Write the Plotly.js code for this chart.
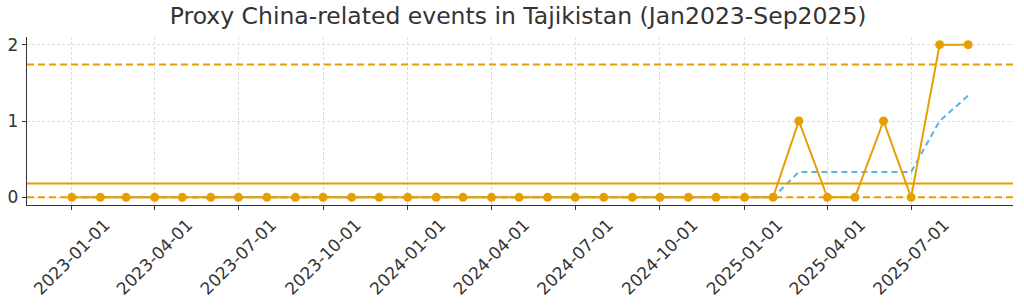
<!DOCTYPE html>
<html><head><meta charset="utf-8">
<script src="https://cdn.plot.ly/plotly-3.0.1.min.js"></script>
<style>body{margin:0;padding:0;background:#fff}#c{width:1024px;height:305px}</style>
</head><body><div id="c"></div>
<script>
const months = ["2023-01-01","2023-02-01","2023-03-01","2023-04-01","2023-05-01","2023-06-01","2023-07-01","2023-08-01","2023-09-01","2023-10-01","2023-11-01","2023-12-01",
"2024-01-01","2024-02-01","2024-03-01","2024-04-01","2024-05-01","2024-06-01","2024-07-01","2024-08-01","2024-09-01","2024-10-01","2024-11-01","2024-12-01",
"2025-01-01","2025-02-01","2025-03-01","2025-04-01","2025-05-01","2025-06-01","2025-07-01","2025-08-01","2025-09-01"];
const events = [0,0,0,0,0,0,0,0,0,0,0,0, 0,0,0,0,0,0,0,0,0,0,0,0, 0,0,1,0,0,1,0,2,2];
const rolling3 = [0,0,0,0,0,0,0,0,0,0,0,0, 0,0,0,0,0,0,0,0,0,0,0,0, 0,0,0.333,0.333,0.333,0.333,0.333,1.0,1.333];
const meanLevel = 0.182;
const upperLevel = 1.74;
const lowerLevel = 0;
const tickDates = ["2023-01-01","2023-04-01","2023-07-01","2023-10-01","2024-01-01","2024-04-01","2024-07-01","2024-10-01","2025-01-01","2025-04-01","2025-07-01"];
const titleText = "Proxy China-related events in Tajikistan (Jan2023-Sep2025)";

const orange = "#E69F00", blue = "#56B4E9";
const xr = ["2022-11-13 07:00","2025-10-19 17:00"];
const traces = [
  {x: months, y: rolling3, mode:"lines", line:{color:blue, width:2, dash:"6px,4px"}, hoverinfo:"skip"},
  {x: xr, y:[meanLevel, meanLevel], mode:"lines", line:{color:orange, width:2}, hoverinfo:"skip"},
  {x: xr, y:[upperLevel, upperLevel], mode:"lines", line:{color:orange, width:2, dash:"7px,4px"}, hoverinfo:"skip"},
  {x: xr, y:[lowerLevel, lowerLevel], mode:"lines", line:{color:orange, width:2, dash:"7px,4px"}, hoverinfo:"skip"},
  {x: months, y: events, mode:"lines+markers", line:{color:orange, width:2}, marker:{color:orange, size:9}}
];
const layout = {
  width:1024, height:305, showlegend:false,
  paper_bgcolor:"#fff", plot_bgcolor:"#fff",
  margin:{l:27, r:11, t:37, b:100},
  font:{family:"DejaVu Sans", color:"#333"},
  title:{text:titleText, font:{size:23.5, color:"#333", family:"DejaVu Sans"}, x:0.506, xanchor:"center", y:0.975, yanchor:"top"},
  xaxis:{type:"date", range:xr, tickvals:tickDates, ticktext:tickDates, tickangle:-45, ticklabeloverflow:"allow",
    ticklabelshift:33, ticklabelstandoff:-2,
    showgrid:true, gridcolor:"#dddddd", griddash:"3px,2px", gridwidth:1,
    ticks:"outside", ticklen:4, tickcolor:"#333", showline:true, linecolor:"#333", linewidth:1.2,
    tickfont:{size:17, color:"#333"}, zeroline:false, automargin:false},
  yaxis:{range:[-0.1,2.1], tickvals:[0,1,2], showgrid:true, gridcolor:"#dddddd", griddash:"3px,2px", gridwidth:1,
    ticks:"outside", ticklen:4, tickcolor:"#333", showline:true, linecolor:"#333", linewidth:1.2,
    tickfont:{size:17, color:"#333"}, zeroline:false, automargin:false}
};
Plotly.newPlot("c", traces, layout, {displayModeBar:false, staticPlot:true});
</script></body></html>
